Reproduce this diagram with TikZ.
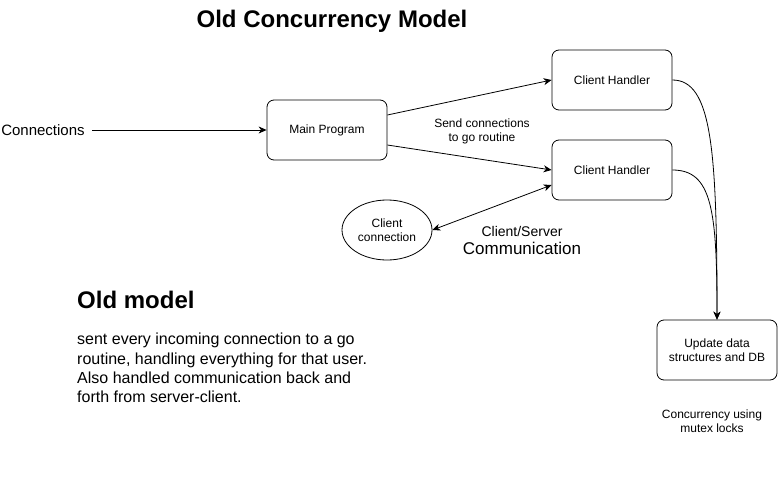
\documentclass[tikz,border=0pt]{standalone}
\usepackage{fontspec}
\setmainfont{Liberation Sans}
\usetikzlibrary{arrows.meta,shapes.geometric}
\begin{document}
\begin{tikzpicture}[x=1pt,y=-1pt,
  box/.style={draw,rounded corners=7pt,minimum width=120pt,minimum height=60pt,
    align=center,font=\fontsize{12}{14}\selectfont,line width=0.8pt},
  oval/.style={draw,ellipse,minimum width=90pt,minimum height=60pt,inner sep=0pt,
    align=center,font=\fontsize{12}{14}\selectfont,line width=0.8pt},
  lbl/.style={align=center,inner sep=0pt},
  conn/.style={line width=0.8pt,-{Stealth[length=8pt,width=7pt,inset=2.5pt]}},
  both/.style={line width=0.8pt,{Stealth[length=8pt,width=7pt,inset=2.5pt]}-{Stealth[length=8pt,width=7pt,inset=2.5pt]}}
]
\useasboundingbox (0,0) rectangle (778,481);

% title
\node[lbl,font=\fontsize{24}{28}\selectfont\bfseries] (title) at (332,21) {Old Concurrency Model};

% boxes
\node[box] (main) at (327,130) {Main Program};
\node[box] (ch1) at (612,80) {Client Handler};
\node[box] (ch2) at (612,170) {Client Handler};
\node[oval] (client) at (387,230) {Client\\connection};
\node[box] (db) at (717,350) {Update data\\structures and DB};

% incoming connections
\node[lbl,font=\fontsize{15}{18}\selectfont] (inc) at (43,130) {Connections};
\coordinate (incend) at (92,130);
\draw[conn] (incend) -- (main.west);

% dispatch to handlers
\draw[conn] ([yshift=15pt]main.east) -- (ch1.west);
\draw[conn] ([yshift=-15pt]main.east) -- (ch2.west);
\node[lbl,font=\fontsize{12}{14}\selectfont] (send) at (482,131) {Send connections\\to go routine};

% client/server link
\draw[both] (client.east) -- ([yshift=-15pt]ch2.west);
\node[lbl,font=\fontsize{14}{17}\selectfont] (cs) at (522,231) {Client/Server};
\node[lbl,font=\fontsize{17}{20}\selectfont] (comm) at (522,248) {Communication};

% handlers update shared state
\draw[conn] (ch1.east) .. controls (712,80) and (717,150) .. (db.north);
\draw[conn] (ch2.east) .. controls (712,170) and (717,210) .. (db.north);

\node[lbl,font=\fontsize{12}{14}\selectfont] (mutex) at (712,421) {Concurrency using\\mutex locks};

% description
\node[lbl,anchor=west,font=\fontsize{24}{28}\selectfont\bfseries] (oldm) at (77,300) {Old model};
\node[lbl,anchor=north west,align=left,font=\fontsize{16}{19.3}\selectfont] (desc) at (77,333)
  {sent every incoming connection to a go\\routine, handling everything for that user.\\Also handled communication back and\\forth from server-client.};
\end{tikzpicture}
\end{document}
